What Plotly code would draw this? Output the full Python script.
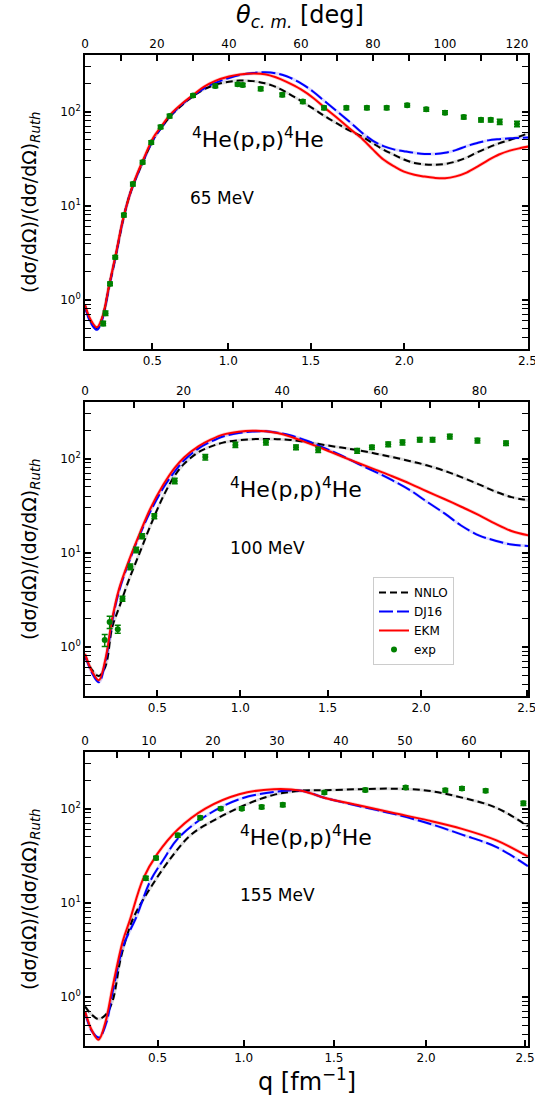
import math
import plotly.graph_objects as go

# ---------------- data (theta_cm in degrees, ratio to Rutherford) ----------------
# 65 MeV
th65 = [0, 1.5, 3.3, 4.8, 6.7, 8.6, 10.5, 12.4, 14, 16.2, 19, 21, 23.8, 27, 30,
        33, 36.2, 40, 43, 46.7, 50, 53, 56, 60, 63.5, 66.7, 70, 73.5, 77.1, 80,
        82.9, 86, 88.6, 91.5, 94.3, 97, 100, 103, 106, 109, 112, 115, 118, 121, 123.1]
ekm65 = [0.88, 0.62, 0.51, 0.65, 1.42, 3.1, 7.0, 13, 19.5, 31, 53, 68, 94, 122, 150,
         183, 212, 236, 248, 254, 250, 232, 207, 172, 139, 109, 86, 66, 51, 39.5,
         31, 26, 23, 21.3, 20.4, 19.8, 19.6, 20.5, 22.5, 26, 30.5, 35, 38.5, 41, 42.5]
dj65 = [0.86, 0.58, 0.48, 0.62, 1.38, 3.0, 6.9, 13, 19, 30, 51, 66, 91, 120, 148,
        176, 202, 228, 245, 258, 262, 256, 238, 200, 162, 128, 101, 78, 59, 49,
        43, 39.5, 38, 36.5, 35.5, 35.5, 36.5, 39, 43, 46.5, 49.5, 51, 52, 52.5, 53]
nnlo65 = [0.86, 0.6, 0.5, 0.64, 1.4, 3.0, 6.9, 13, 19, 30, 51, 66, 90, 118, 146,
          172, 193, 208, 214, 211, 200, 183, 160, 130, 107, 89, 75, 63, 54, 46,
          39.5, 34.5, 31, 28.5, 27.5, 27.2, 27.8, 29.5, 32.5, 37, 41.5, 46, 50, 55, 59]
exp65_th = [5.05, 5.7, 6.95, 8.4, 10.8, 13.3, 16.0, 18.4, 21.0, 23.5, 30.0, 36.2, 42.4, 43.8,
            48.8, 54.8, 60.5, 66.4, 72.6, 78.3, 83.8, 89.5, 94.8, 100.0, 105.2, 110.0,
            112.7, 115.2, 120.0]
exp65 = [0.56, 0.72, 1.48, 2.83, 7.96, 17, 29, 47, 68.6, 89.7, 148, 187, 195, 192,
         175, 151, 128, 110, 110, 110, 110, 117, 106, 97.5, 87.5, 81.8, 81.8, 77.8, 74]
exp65_err = [0.03, 0.04, 0.07, 0.12, 0.35, 0.8, 1.3, 2, 3, 4, 6, 8, 8, 8,
             8, 7, 6, 5, 5, 5, 5, 5, 5, 4.5, 4, 4, 4, 5, 5]

# 100 MeV
th100 = [0, 1.4, 2.8, 4.15, 5.5, 6.9, 9.0, 11.1, 13.2, 15.9, 18.2, 20.1, 23, 25.6, 28,
         31.2, 34, 36.7, 39, 41.6, 45, 48.5, 52, 55.4, 59, 62.3, 66, 69.3, 73, 76.2,
         80, 83.1, 86.5, 89.9]
ekm100 = [0.84, 0.55, 0.44, 0.74, 1.96, 4.1, 8.5, 16, 29, 53, 80, 103, 135, 160, 180,
          193, 198, 196, 187, 172, 148, 126, 106, 90, 76, 65, 54, 45, 37, 31,
          25, 20.5, 17, 15.3]
dj100 = [0.82, 0.53, 0.42, 0.7, 1.85, 3.9, 8.2, 15.5, 27, 49, 73, 96, 128, 152, 172,
         187, 194, 195, 189, 177, 155, 130, 108, 88, 72, 59, 46, 35, 26, 19.6,
         15.2, 13.5, 12.2, 11.8]
nnlo100 = [0.8, 0.57, 0.49, 0.62, 1.6, 2.6, 5.3, 10, 19, 40, 66, 88, 117, 135, 148,
           157, 161, 162, 161, 158, 150, 140, 131, 123, 113, 104, 94, 85, 74, 64,
           53, 45, 39, 36]
exp100_th = [4.0, 5.0, 6.65, 7.6, 9.2, 10.4, 11.6, 14.06, 18.2, 24.4, 30.5, 36.7, 42.8,
             47.3, 55.2, 58.2, 61.5, 64.4, 67.9, 70.5, 74.0, 79.6, 85.4]
exp100 = [1.18, 1.84, 1.54, 3.25, 7.1, 10.7, 15.0, 24.5, 58, 104, 140, 149, 132,
          124, 121, 132, 142, 149, 159, 159, 172, 156, 146]
exp100_err = [0.17, 0.27, 0.15, 0.2, 0.5, 0.7, 0.9, 1.5, 4, 7, 9, 9, 8,
              8, 7, 7, 8, 9, 9, 9, 10, 9, 8]

# 155 MeV
th155_ekm = [0, 1, 2.1, 3.2, 4.3, 5.9, 7.0, 9.1, 11.3, 14.5, 18.8, 24.1, 29.5, 33.8,
             37.5, 42.9, 48.2, 53.6, 58.9, 64.3, 69.2]
ekm155 = [0.7, 0.45, 0.35, 0.54, 1.26, 3.9, 6.5, 18, 33, 60, 100, 142, 161, 155,
          130, 108, 90, 75, 61, 46, 31]
th155_dj = [0, 1, 2.2, 3.3, 4.4, 6.0, 8.0, 10.2, 12.3, 14.5, 18.8, 24.1, 29.5, 33.8,
            37.5, 42.9, 48.2, 53.6, 58.9, 64.3, 69.2]
dj155 = [0.7, 0.44, 0.37, 0.52, 1.2, 3.5, 7.0, 17, 29, 48, 83, 126, 150, 155,
         130, 106, 88, 70, 53, 39, 24.5]
th155_nnlo = [0, 1, 2.1, 3.2, 4.3, 5.6, 7.0, 7.8, 10.2, 13.4, 16.6, 20.9, 25.2, 29.5,
              33.8, 37.5, 42.9, 48.2, 53.6, 58.9, 64.3, 69.2]
nnlo155 = [0.79, 0.65, 0.58, 0.64, 0.9, 2.6, 5.5, 7.5, 14.3, 29.8, 53, 80, 111, 140,
           155, 157, 161, 163, 155, 131, 102, 65]
exp155_th = [9.5, 11.1, 14.5, 18.0, 21.2, 24.5, 27.6, 30.9, 37.4, 43.8, 50.1, 56.3,
             58.9, 62.6, 68.5]
exp155 = [18.2, 29.9, 52, 80, 100, 100, 104, 110, 148, 158, 168, 157, 164, 155, 114]
exp155_err = [0.9, 1.3, 2.3, 3.5, 4, 4, 4.5, 5, 6, 7, 7, 7, 7, 7, 6]

# tick labels
q_labels = ["0.5", "1.0", "1.5", "2.0", "2.5"]
q_theta65 = [18.7, 39.8, 62.7, 88.7, 122.9]
q_theta100 = [14.67, 31.5, 49.2, 68.15, 89.6]
q_theta155 = [11.34, 24.8, 38.9, 53.3, 68.75]
top65 = list(range(0, 121, 10))
top100 = list(range(0, 81, 10))
top155 = list(range(0, 66, 5))
energies = ["65 MeV", "100 MeV", "155 MeV"]

# ---------------- layout helpers ----------------
FONT = "DejaVu Sans"
W, H = 535, 1104
ML, MR, MT, MB = 85, 7, 55, 58
PW = W - ML - MR
PH = H - MT - MB


def fx(px):
    return (px - ML) / PW


def fy(py):
    return 1 - (py - MT) / PH


doms_px = [(55, 349), (402, 696), (752, 1046)]
theta_max = [443 / 3.6, 443 / 4.93, 443 / 6.4]
ylog = [math.log10(0.3), math.log10(400)]
minor_vals = [a * 10 ** e for e in (-1, 0, 1, 2) for a in range(2, 10)
              if 0.3 <= a * 10 ** e <= 400]

fig = go.Figure()

RED, BLUE, BLACK, GREEN = "#ff0000", "#0000ff", "#000000", "#008000"

panels = [
    dict(th_e=th65, e=ekm65, th_d=th65, d=dj65, th_n=th65, n=nnlo65,
         xt=exp65_th, xv=exp65, xe=exp65_err, qv=q_theta65, top=top65, lab=20),
    dict(th_e=th100, e=ekm100, th_d=th100, d=dj100, th_n=th100, n=nnlo100,
         xt=exp100_th, xv=exp100, xe=exp100_err, qv=q_theta100, top=top100, lab=20),
    dict(th_e=th155_ekm, e=ekm155, th_d=th155_dj, d=dj155, th_n=th155_nnlo, n=nnlo155,
         xt=exp155_th, xv=exp155, xe=exp155_err, qv=q_theta155, top=top155, lab=10),
]

for i, p in enumerate(panels):
    xb = "x" if i == 0 else f"x{2 * i + 1}"
    xt = f"x{2 * i + 2}"
    ya = "y" if i == 0 else f"y{i + 1}"
    show = (i == 1)
    # uncertainty bands (faint)
    fig.add_trace(go.Scatter(x=p["th_n"], y=p["n"], xaxis=xb, yaxis=ya, mode="lines",
                             line=dict(color="rgba(0,0,0,0.13)", width=3, shape="spline"),
                             showlegend=False, hoverinfo="skip"))
    fig.add_trace(go.Scatter(x=p["th_d"], y=p["d"], xaxis=xb, yaxis=ya, mode="lines",
                             line=dict(color="rgba(0,0,255,0.15)", width=3, shape="spline"),
                             showlegend=False, hoverinfo="skip"))
    fig.add_trace(go.Scatter(x=p["th_e"], y=p["e"], xaxis=xb, yaxis=ya, mode="lines",
                             line=dict(color="rgba(255,0,0,0.2)", width=3.5, shape="spline"),
                             showlegend=False, hoverinfo="skip"))
    fig.add_trace(go.Scatter(x=p["th_n"], y=p["n"], xaxis=xb, yaxis=ya, mode="lines",
                             name="NNLO", showlegend=show,
                             line=dict(color=BLACK, width=2, dash="7px,4px", shape="spline")))
    fig.add_trace(go.Scatter(x=p["th_d"], y=p["d"], xaxis=xb, yaxis=ya, mode="lines",
                             name="DJ16", showlegend=show,
                             line=dict(color=BLUE, width=2, dash="14px,4px", shape="spline")))
    fig.add_trace(go.Scatter(x=p["th_e"], y=p["e"], xaxis=xb, yaxis=ya, mode="lines",
                             name="EKM", showlegend=show,
                             line=dict(color=RED, width=2, shape="spline")))
    fig.add_trace(go.Scatter(x=p["xt"], y=p["xv"], xaxis=xb, yaxis=ya, mode="markers",
                             name="exp", showlegend=show,
                             marker=dict(color=GREEN, size=6),
                             error_y=dict(type="data", array=p["xe"], color=GREEN,
                                          thickness=1.5, width=3)))
    # empty trace to activate top axis
    fig.add_trace(go.Scatter(x=[], y=[], xaxis=xt, yaxis=ya, showlegend=False,
                             hoverinfo="skip"))

    top_d, bot_d = doms_px[i]
    dom = [fy(bot_d), fy(top_d)]
    tickfont = dict(family=FONT, size=12, color="black")
    bottom_ax = dict(domain=[0, 1], anchor=ya, range=[0, theta_max[i]],
                     tickmode="array", tickvals=p["qv"], ticktext=q_labels,
                     ticks="inside", ticklen=6, tickwidth=2, tickcolor="black",
                     showline=True, linecolor="black", linewidth=1.5, mirror=True,
                     showgrid=False, zeroline=False, tickfont=tickfont,
                     automargin=False, ticklabeloverflow="allow")
    top_ax = dict(overlaying=xb, side="top", anchor=ya, range=[0, theta_max[i]],
                  tickmode="array", tickvals=p["top"],
                  ticktext=[str(v) if v % p["lab"] == 0 else "" for v in p["top"]],
                  ticks="inside", ticklen=6, tickwidth=2, tickcolor="black",
                  showline=True, linecolor="black", linewidth=1.5,
                  showgrid=False, zeroline=False, tickfont=tickfont,
                  automargin=False, ticklabeloverflow="allow")
    y_ax = dict(domain=dom, anchor=xb, type="log", range=ylog,
                tickmode="array", tickvals=[1, 10, 100],
                ticktext=["10<sup>0</sup>", "10<sup>1</sup>", "10<sup>2</sup>"],
                ticks="inside", ticklen=6, tickwidth=2, tickcolor="black",
                minor=dict(tickmode="array", tickvals=minor_vals, ticks="inside",
                           ticklen=3, tickwidth=1, tickcolor="black"),
                showline=True, linecolor="black", linewidth=1.5, mirror="allticks",
                showgrid=False, zeroline=False, tickfont=tickfont, automargin=False)
    bname = "xaxis" if i == 0 else f"xaxis{2 * i + 1}"
    tname = f"xaxis{2 * i + 2}"
    yname = "yaxis" if i == 0 else f"yaxis{i + 1}"
    fig.update_layout({bname: bottom_ax, tname: top_ax, yname: y_ax})

ann = []
he_pos = [(190, 138), (228, 488), (238, 836)]
mev_pos = [(188, 198), (228, 548), (238, 895)]
ytitle_y = [202, 549, 899]
for i in range(3):
    ann.append(dict(x=fx(he_pos[i][0]), y=fy(he_pos[i][1]), xref="paper", yref="paper",
                    xanchor="left", yanchor="middle", showarrow=False,
                    text="<sup>4</sup>He(p,p)<sup>4</sup>He",
                    font=dict(family=FONT, size=22, color="black")))
    ann.append(dict(x=fx(mev_pos[i][0]), y=fy(mev_pos[i][1]), xref="paper", yref="paper",
                    xanchor="left", yanchor="middle", showarrow=False,
                    text=energies[i], font=dict(family=FONT, size=17, color="black")))
    ann.append(dict(x=fx(30), y=fy(ytitle_y[i]), xref="paper", yref="paper",
                    xanchor="center", yanchor="middle", showarrow=False, textangle=-90,
                    text="(dσ/dΩ)/(dσ/dΩ)<sub><i>Ruth</i></sub>",
                    font=dict(family=FONT, size=19, color="black")))
ann.append(dict(x=fx(300), y=fy(16), xref="paper", yref="paper", xanchor="center",
                yanchor="middle", showarrow=False,
                text="<i>θ</i><sub><i>c. m.</i></sub> [deg]",
                font=dict(family=FONT, size=24, color="black")))
ann.append(dict(x=fx(307), y=fy(1080), xref="paper", yref="paper", xanchor="center",
                yanchor="middle", showarrow=False, text="q [fm<sup>−1</sup>]",
                font=dict(family=FONT, size=24, color="black")))

fig.update_layout(
    width=W, height=H,
    margin=dict(l=ML, r=MR, t=MT, b=MB, pad=0, autoexpand=False),
    paper_bgcolor="white", plot_bgcolor="white",
    font=dict(family=FONT, size=12, color="black"),
    annotations=ann,
    legend=dict(x=fx(373), y=fy(577), xanchor="left", yanchor="top",
                bgcolor="white", bordercolor="#cccccc", borderwidth=1,
                font=dict(family=FONT, size=12, color="black"),
                tracegroupgap=0, itemwidth=30),
)

fig.write_html("out.html")
